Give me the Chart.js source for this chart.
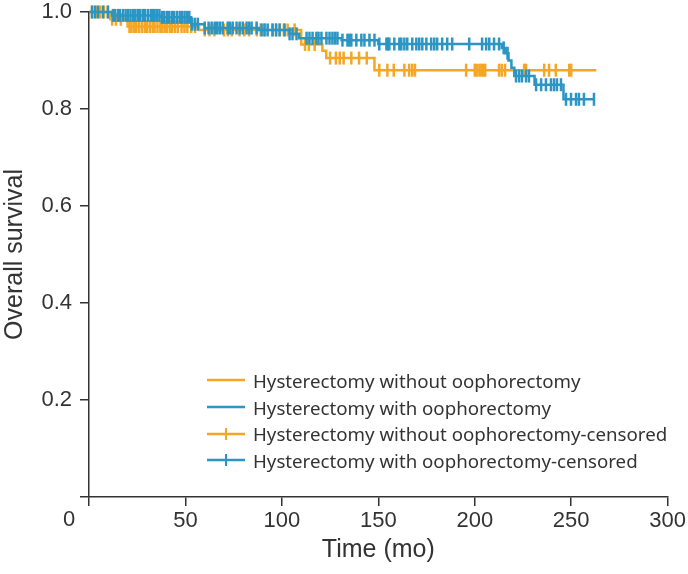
<!DOCTYPE html>
<html>
<head>
<meta charset="utf-8">
<script src="https://cdn.jsdelivr.net/npm/chart.js@4.4.0/dist/chart.umd.min.js"></script>
<style>
  body { margin: 0; background: #fff; }
  #wrap { position: relative; width: 688px; height: 574px; }
  #legend { position: absolute; left: 207px; top: 367px; font-family: 'Noto Sans', sans-serif; font-size: 18.7px; color: #333; }
  .row { display: flex; align-items: center; height: 26.7px; white-space: nowrap; }
  .row svg { margin-right: 8px; }
</style>
</head>
<body>
<div id="wrap">
  <canvas id="kmChart" width="688" height="574"></canvas>
  <div id="legend"></div>
</div>
<script>
// KM steps: time (mo) and survival from that time on
const withoutTimes = [0, 11, 20, 57, 110, 121, 123, 148, 263];
const withoutSurv  = [1.0, 0.985, 0.970, 0.963, 0.933, 0.920, 0.905, 0.880, 0.880];

const withTimes = [0, 12, 37, 53, 60, 88, 104, 109, 131, 150, 214, 216, 217.5, 219, 220.5, 231, 246, 262];
const withSurv  = [1.0, 0.993, 0.989, 0.975, 0.967, 0.963, 0.955, 0.946, 0.942, 0.934, 0.926, 0.915, 0.900, 0.885, 0.868, 0.850, 0.820, 0.820];

// censored observations (mo)
const withoutCensored = [1.5, 3.6, 5.7, 7.8, 9.8, 12, 14, 16.5,
  21, 22, 23.3, 24.5, 26, 27.5, 29, 30, 31.5, 33, 34, 35.5, 37, 38, 39.3, 40.5, 42, 43,
  44.5, 46, 48, 49.5, 51, 53, 55,
  60, 62.5, 65, 70, 72, 74, 78, 80.5, 83, 87, 89, 91, 95, 97, 99, 101, 103, 106.6,
  112, 114, 117, 125, 128, 130, 132, 136, 140, 144,
  150.5, 154.7, 158, 163.5, 166, 167.6, 169, 195.5, 200, 201, 202.4, 203.4, 204.4, 205.4,
  212.6, 214, 215.7, 225.6, 226.6, 236, 238.5, 242, 249, 250];

const withCensored = [1.6, 3.1, 4.7, 7.2, 9.8,
  12.4, 13.5, 15, 16, 17.6, 19, 20.2, 21.5, 22.8, 24, 25.3, 26.5, 27.9, 29, 30.5, 32, 33.1, 34, 35.2, 36.5,
  37.8, 39, 40.4, 41.5, 42.9, 44, 45.5, 47, 48.1, 49.5, 50.7, 52, 53.3, 54.8, 56.4,
  60, 62, 63.6, 65.2, 66.5, 67.8, 69.3, 71.9, 73, 74.5, 76.5, 78.1, 79.7, 81.7, 83, 84.3, 86.9,
  89.5, 91, 92.6, 95.2, 97, 98.8, 101.4, 104, 105.5, 107.6,
  112.8, 114.3, 115.9, 117.9, 119, 120.5, 123.1, 124.7, 126.2, 127.5, 128.8, 131.4,
  134, 135, 136, 138.6, 141.2, 142.8, 145.4, 148, 150.5,
  154.2, 155, 155.7, 158.3, 160.9, 161.9, 163.5, 165, 167.6, 169.7, 171.2, 172.8, 174.9,
  177.4, 179, 180.5, 183.1, 185.7, 188.3, 197.1, 203.8, 205.9, 207.5, 210, 212.6, 215, 217,
  221.4, 223, 224.5, 226.6, 228.1,
  231.8, 234.4, 236.9, 239.5, 241.1, 242.6, 244.7,
  247.3, 249.9, 252.5, 254, 256.6, 261.8];

const xTicks = [0, 50, 100, 150, 200, 250, 300];
const yTicks = [0, 0.2, 0.4, 0.6, 0.8, 1.0];

const legendLabels = [
  'Hysterectomy without oophorectomy',
  'Hysterectomy with oophorectomy',
  'Hysterectomy without oophorectomy-censored',
  'Hysterectomy with oophorectomy-censored'
];

const orange = '#f5a623';
const blue = '#2b95c3';
const axisColor = '#333';
const tickFont = { family: 'Liberation Sans', size: 22 };
const titleFont = { family: 'Liberation Sans', size: 25 };

function stepPoints(times, surv) {
  return times.map((t, i) => ({ x: t, y: surv[i] }));
}

// put each censor mark on its curve
function censorPoints(censored, times, surv) {
  return censored.map(t => {
    let s = surv[0];
    for (let i = 0; i < times.length; i++) {
      if (times[i] <= t) s = surv[i];
    }
    return { x: t, y: s };
  });
}

function curve(label, data, color, order) {
  return {
    label: label, data: data, order: order,
    borderColor: color, borderWidth: 2.5, stepped: true,
    pointRadius: 0, fill: false, clip: false
  };
}

function marks(label, data, color, order) {
  return {
    label: label, data: data, order: order, showLine: false,
    pointStyle: 'line', pointRotation: 90, pointRadius: 6.5,
    pointBorderWidth: 2.5, pointBorderColor: color, borderColor: color,
    clip: false
  };
}

// the shared "0" at the corner sits left of the axis origin
const cornerZero = {
  id: 'cornerZero',
  afterDraw(chart) {
    const { ctx, chartArea } = chart;
    ctx.save();
    ctx.font = '22px "Liberation Sans"';
    ctx.fillStyle = axisColor;
    ctx.textAlign = 'center';
    ctx.textBaseline = 'middle';
    ctx.fillText('0', chartArea.left - 20, chartArea.bottom + 23);
    ctx.restore();
  }
};

const ctx = document.getElementById('kmChart').getContext('2d');
new Chart(ctx, {
  type: 'line',
  data: {
    datasets: [
      curve(legendLabels[0], stepPoints(withoutTimes, withoutSurv), orange, 3),
      curve(legendLabels[1], stepPoints(withTimes, withSurv), blue, 1),
      marks(legendLabels[2], censorPoints(withoutCensored, withoutTimes, withoutSurv), orange, 2),
      marks(legendLabels[3], censorPoints(withCensored, withTimes, withSurv), blue, 0)
    ]
  },
  options: {
    responsive: false,
    animation: false,
    layout: { padding: { top: 12, right: 19, left: 0, bottom: 0 } },
    plugins: { legend: { display: false }, tooltip: { enabled: false } },
    scales: {
      x: {
        type: 'linear', min: 0, max: 300,
        afterBuildTicks: s => { s.ticks = xTicks.map(v => ({ value: v })); },
        afterFit: s => { s.height = 77; },
        grid: { drawOnChartArea: false, tickLength: 9, color: axisColor, lineWidth: 1.5 },
        border: { color: axisColor, width: 1.5 },
        ticks: { font: tickFont, color: axisColor, padding: 2, maxRotation: 0,
          callback: v => v === 0 ? '' : v },
        title: { display: true, text: 'Time (mo)', font: titleFont, color: axisColor,
          padding: { top: 0, bottom: 9 } }
      },
      y: {
        type: 'linear', min: 0, max: 1,
        afterBuildTicks: s => { s.ticks = yTicks.map(v => ({ value: v })); },
        afterFit: s => { s.width = 89; s.paddingTop = 0; s.paddingBottom = 0; },
        grid: { drawOnChartArea: false, tickLength: 9, color: axisColor, lineWidth: 1.5 },
        border: { color: axisColor, width: 1.5 },
        ticks: { font: tickFont, color: axisColor, padding: 8,
          callback: v => v === 0 ? '' : v.toFixed(1) },
        title: { display: true, text: 'Overall survival', font: titleFont, color: axisColor,
          padding: { top: 0, bottom: 0 } }
      }
    }
  },
  plugins: [cornerZero]
});

// legend
const legendColors = [orange, blue, orange, blue];
const legendCensor = [false, false, true, true];
const legendBox = document.getElementById('legend');
legendLabels.forEach((text, i) => {
  const row = document.createElement('div');
  row.className = 'row';
  let svg = '<svg width="38" height="14"><line x1="0" y1="7" x2="38" y2="7" stroke="' + legendColors[i] + '" stroke-width="2.5"/>';
  if (legendCensor[i]) {
    svg += '<line x1="19" y1="1" x2="19" y2="13" stroke="' + legendColors[i] + '" stroke-width="2"/>';
  }
  svg += '</svg>';
  row.innerHTML = svg + '<span></span>';
  row.querySelector('span').textContent = text;
  legendBox.appendChild(row);
});
</script>
</body>
</html>
